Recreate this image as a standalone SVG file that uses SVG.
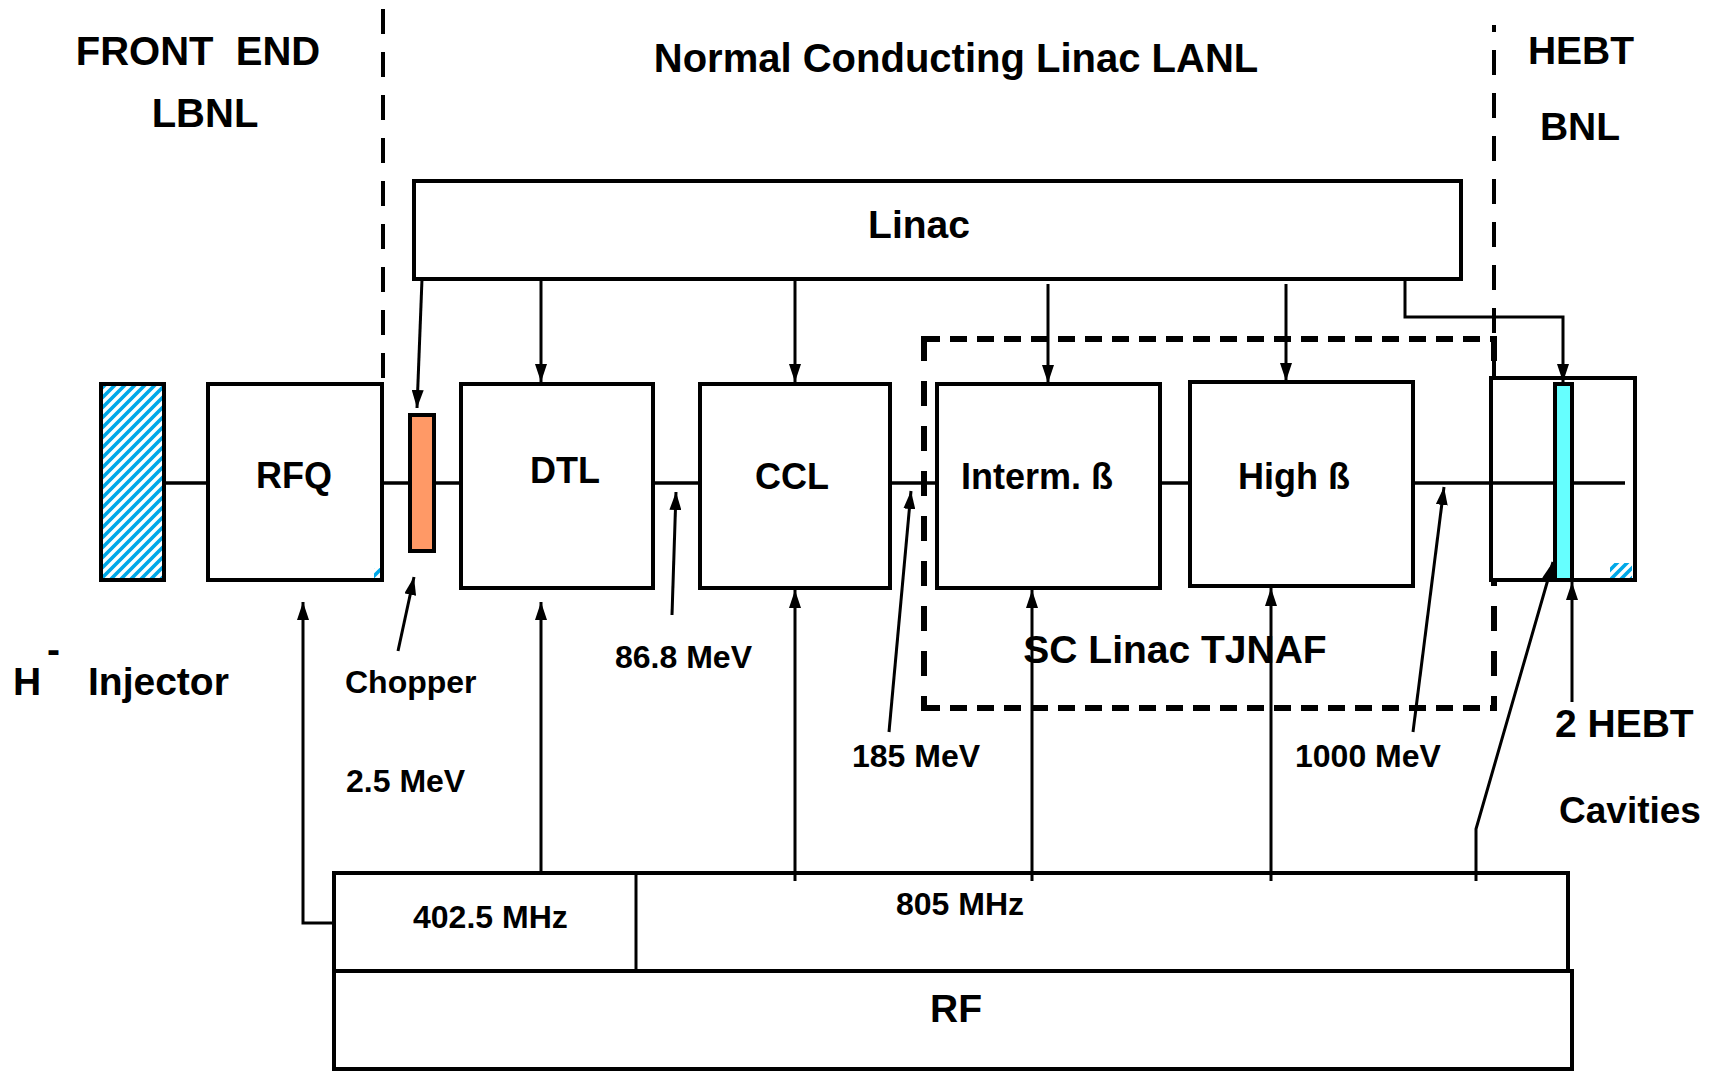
<svg xmlns="http://www.w3.org/2000/svg" width="1717" height="1071" viewBox="0 0 1717 1071">
<style>
.t{font-family:"Liberation Sans",Arial,sans-serif;font-weight:bold;fill:#000}
.box{fill:#fff;stroke:#000;stroke-width:4}
.ln{fill:none;stroke:#000;stroke-width:3}
.beam{stroke:#000;stroke-width:3.5}
.dv{stroke:#000;stroke-width:4;stroke-dasharray:25 18}
.dh{stroke:#000;stroke-width:6;stroke-dasharray:17 10}
.ds{stroke:#000;stroke-width:6;stroke-dasharray:25 20}
</style>
<defs>
<pattern id="hatch" patternUnits="userSpaceOnUse" width="10" height="10">
<rect width="10" height="10" fill="#fff"/>
<path d="M-2,12 L12,-2 M-3,3 L3,-3 M7,13 L13,7" stroke="#00A8E8" stroke-width="3.6"/>
</pattern>
<marker id="ah" markerUnits="userSpaceOnUse" markerWidth="18" markerHeight="12" refX="18" refY="6" orient="auto">
<path d="M0,0 L18,6 L0,12 z" fill="#000"/>
</marker>
</defs>
<rect width="1717" height="1071" fill="#fff"/>

<g id="section-lines">
<line class="dv" x1="383" y1="9" x2="383" y2="378"/>
<line class="dv" x1="1494" y1="25" x2="1494" y2="378" stroke-dashoffset="18"/>
</g>

<g id="beamline">
<line class="beam" x1="164" y1="483" x2="208" y2="483"/>
<line class="beam" x1="382" y1="483" x2="461" y2="483"/>
<line class="beam" x1="653" y1="483" x2="700" y2="483"/>
<line class="beam" x1="890" y1="483" x2="937" y2="483"/>
<line class="beam" x1="1160" y1="483" x2="1190" y2="483"/>
<line class="beam" x1="1413" y1="483" x2="1491" y2="483"/>
</g>

<g id="sc-linac">
<line class="dh" x1="923" y1="339" x2="1494" y2="339"/>
<line class="dh" x1="923" y1="708" x2="1494" y2="708"/>
<line class="ds" x1="924" y1="336" x2="924" y2="711"/>
<line class="ds" x1="1494" y1="336" x2="1494" y2="711"/>
<text class="t" x="1175" y="663" font-size="39" text-anchor="middle">SC Linac TJNAF</text>
</g>

<g id="injector">
<rect x="101" y="384" width="63" height="196" fill="url(#hatch)" stroke="#000" stroke-width="4"/>
</g>
<g id="rfq">
<rect class="box" x="208" y="384" width="174" height="196"/>
<rect x="374" y="568" width="6" height="10" fill="url(#hatch)"/>
<text class="t" x="294" y="488" font-size="36" text-anchor="middle">RFQ</text>
</g>
<g id="chopper">
<rect x="410" y="415" width="24" height="136" fill="#FF9966" stroke="#000" stroke-width="4"/>
</g>
<g id="dtl">
<rect class="box" x="461" y="384" width="192" height="204"/>
<text class="t" x="565" y="483" font-size="36" text-anchor="middle">DTL</text>
</g>
<g id="ccl">
<rect class="box" x="700" y="384" width="190" height="204"/>
<text class="t" x="792" y="489" font-size="36" text-anchor="middle">CCL</text>
</g>
<g id="interm">
<rect class="box" x="937" y="384" width="223" height="204"/>
<text class="t" x="1037" y="489" font-size="36" text-anchor="middle">Interm. ß</text>
</g>
<g id="high">
<rect class="box" x="1190" y="382" width="223" height="204"/>
<text class="t" x="1294" y="489" font-size="36" text-anchor="middle">High ß</text>
</g>
<g id="hebt">
<rect class="box" x="1491" y="378" width="144" height="202"/>
<rect x="1610" y="563" width="22" height="15" fill="url(#hatch)"/>
<line class="beam" x1="1491" y1="483" x2="1625" y2="483"/>
<rect x="1555" y="384" width="17" height="196" fill="#66FFFF" stroke="#000" stroke-width="4"/>
</g>

<g id="linac">
<rect class="box" x="414" y="181" width="1047" height="98"/>
<text class="t" x="919" y="238" font-size="39" text-anchor="middle">Linac</text>
</g>

<g id="rf">
<rect class="box" x="334" y="873" width="1234" height="98"/>
<line class="ln" x1="636" y1="873" x2="636" y2="971" stroke-width="4"/>
<rect class="box" x="334" y="971" width="1238" height="98"/>
<text class="t" x="413" y="928" font-size="32">402.5 MHz</text>
<text class="t" x="896" y="915" font-size="32">805 MHz</text>
<text class="t" x="956" y="1022" font-size="39" text-anchor="middle">RF</text>
</g>

<g id="connectors">
<line class="ln" x1="422" y1="279" x2="417" y2="408" marker-end="url(#ah)"/>
<line class="ln" x1="541" y1="279" x2="541" y2="382" marker-end="url(#ah)"/>
<line class="ln" x1="795" y1="279" x2="795" y2="382" marker-end="url(#ah)"/>
<line class="ln" x1="1048" y1="284" x2="1048" y2="383" marker-end="url(#ah)"/>
<line class="ln" x1="1286" y1="284" x2="1286" y2="381" marker-end="url(#ah)"/>
<polyline class="ln" points="1405,279 1405,317 1563,317 1563,382" marker-end="url(#ah)"/>
<polyline class="ln" points="334,923 303,923 303,602" marker-end="url(#ah)"/>
<line class="ln" x1="541" y1="873" x2="541" y2="602" marker-end="url(#ah)"/>
<line class="ln" x1="795" y1="881" x2="795" y2="590" marker-end="url(#ah)"/>
<line class="ln" x1="1032" y1="881" x2="1032" y2="590" marker-end="url(#ah)"/>
<line class="ln" x1="1271" y1="881" x2="1271" y2="588" marker-end="url(#ah)"/>
<polyline class="ln" points="1476,881 1476,829 1553,562" marker-end="url(#ah)"/>
<line class="ln" x1="1572" y1="702" x2="1572" y2="582" marker-end="url(#ah)"/>
<line class="ln" x1="398" y1="651" x2="414" y2="577" marker-end="url(#ah)"/>
<line class="ln" x1="672" y1="615" x2="676" y2="492" marker-end="url(#ah)"/>
<line class="ln" x1="889" y1="732" x2="911" y2="491" marker-end="url(#ah)"/>
<line class="ln" x1="1413" y1="732" x2="1444" y2="487" marker-end="url(#ah)"/>
</g>

<g id="labels">
<text class="t" x="198" y="65" font-size="40" text-anchor="middle" xml:space="preserve">FRONT  END</text>
<text class="t" x="205" y="127" font-size="40" text-anchor="middle">LBNL</text>
<text class="t" x="956" y="72" font-size="40" text-anchor="middle">Normal Conducting Linac LANL</text>
<text class="t" x="1581" y="64" font-size="39" text-anchor="middle">HEBT</text>
<text class="t" x="1580" y="140" font-size="39" text-anchor="middle">BNL</text>
<text class="t" x="13" y="695" font-size="39">H</text>
<text class="t" x="47" y="663" font-size="39">-</text>
<text class="t" x="88" y="695" font-size="39">Injector</text>
<text class="t" x="345" y="693" font-size="32">Chopper</text>
<text class="t" x="346" y="792" font-size="32">2.5 MeV</text>
<text class="t" x="615" y="668" font-size="32">86.8 MeV</text>
<text class="t" x="852" y="767" font-size="32">185 MeV</text>
<text class="t" x="1295" y="767" font-size="32">1000 MeV</text>
<text class="t" x="1555" y="737" font-size="39">2 HEBT</text>
<text class="t" x="1559" y="823" font-size="37">Cavities</text>
</g>
</svg>
